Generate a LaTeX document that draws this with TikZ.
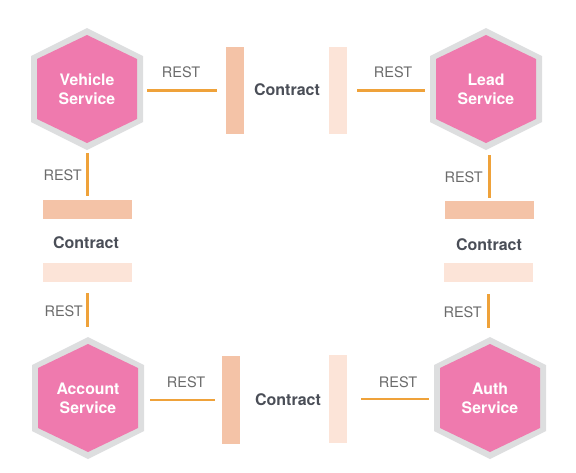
\documentclass[tikz,border=0pt]{standalone}
\usepackage{fontspec}
\setmainfont{TeX Gyre Heros}
\definecolor{hexpink}{HTML}{EF7AAE}
\definecolor{hexrim}{HTML}{DDDEDF}
\definecolor{restline}{HTML}{EFA23A}
\definecolor{bardark}{HTML}{F4C3A7}
\definecolor{barlight}{HTML}{FCE4D8}
\definecolor{contracttext}{HTML}{4A4E57}
\definecolor{resttext}{HTML}{6B6B6B}
\tikzset{
  hexnode/.style={shape=rectangle, inner sep=0pt, minimum width=120pt, minimum height=128pt,
    align=center, text=white, font=\fontsize{15.8}{19}\selectfont\bfseries},
  barbox/.style={shape=rectangle, inner sep=0pt, draw=none},
  restconn/.style={draw=restline, line width=2.1pt},
  restlabel/.style={text=resttext, font=\fontsize{14.5}{17}\selectfont, inner sep=0pt},
  contractlabel/.style={text=contracttext, font=\fontsize{16}{19}\selectfont\bfseries, inner sep=0pt}
}
\newcommand\hexsvc[3]{%
  \fill[hexrim] (#2) ++(0,-61) -- ++(56,28) -- ++(0,66) -- ++(-56,28) -- ++(-56,-28) -- ++(0,-66) -- cycle;
  \fill[hexpink] (#2) ++(0,-54) -- ++(50,24) -- ++(0,60) -- ++(-50,24) -- ++(-50,-24) -- ++(0,-60) -- cycle;
  \node[hexnode] (#1) at (#2) {#3};}
\begin{document}
\begin{tikzpicture}[x=1pt, y=-1pt]
\useasboundingbox (0,0) rectangle (576,472);
% services
\hexsvc{veh}{87,89}{Vehicle\\Service}
\hexsvc{lead}{486,89}{Lead\\Service}
\hexsvc{acc}{88,398}{Account\\Service}
\hexsvc{auth}{490,398}{Auth\\Service}
% top row
\node[barbox, fill=bardark, minimum width=18pt, minimum height=87pt] (ba) at (235,90.5) {};
\node[barbox, fill=barlight, minimum width=18pt, minimum height=87pt] (bb) at (338,90.5) {};
\node[contractlabel] (ca) at (287,90) {Contract};
\draw[restconn, shorten >=9pt] (ba.west -| veh.east) -- (ba.west);
\draw[restconn, shorten <=10pt, shorten >=1pt] (bb.east) -- (bb.east -| lead.west);
\node[restlabel] (ra1) at (181,72) {REST};
\node[restlabel] (ra2) at (393,72) {REST};
% left column
\node[barbox, fill=bardark, minimum width=89pt, minimum height=19pt] (bc) at (87.5,209.5) {};
\node[barbox, fill=barlight, minimum width=89pt, minimum height=19pt] (bd) at (87.5,272.5) {};
\node[contractlabel] (cb) at (86,243) {Contract};
\draw[restconn, shorten >=4pt] (bc.north |- veh.south) -- (bc.north);
\draw[restconn, shorten <=11pt, shorten >=7pt] (bd.south) -- (bd.south |- acc.north);
\node[restlabel, anchor=east] (rb1) at (82,175) {REST};
\node[restlabel, anchor=east] (rb2) at (83,311) {REST};
% right column
\node[barbox, fill=bardark, minimum width=89pt, minimum height=18pt] (be) at (489.5,210) {};
\node[barbox, fill=barlight, minimum width=89pt, minimum height=19pt] (bf) at (488.5,272.5) {};
\node[contractlabel] (cc) at (489,245) {Contract};
\draw[restconn, shorten <=2pt, shorten >=3pt] (be.north |- lead.south) -- (be.north);
\draw[restconn, shorten <=12pt, shorten >=6pt] (bf.south) -- (bf.south |- auth.north);
\node[restlabel, anchor=east] (rc1) at (483,177) {REST};
\node[restlabel, anchor=east] (rc2) at (482,312) {REST};
% bottom row
\node[barbox, fill=bardark, minimum width=18pt, minimum height=88pt] (bg) at (231,400) {};
\node[barbox, fill=barlight, minimum width=18pt, minimum height=88pt] (bh) at (338,399) {};
\node[contractlabel] (cd) at (288,400) {Contract};
\draw[restconn, shorten <=2pt, shorten >=7pt] (bg.west -| acc.east) -- (bg.west);
\draw[restconn, shorten <=14pt, shorten >=1pt] (bh.east) -- (bh.east -| auth.west);
\node[restlabel] (rd1) at (186,382) {REST};
\node[restlabel] (rd2) at (398,382) {REST};
\end{tikzpicture}
\end{document}
